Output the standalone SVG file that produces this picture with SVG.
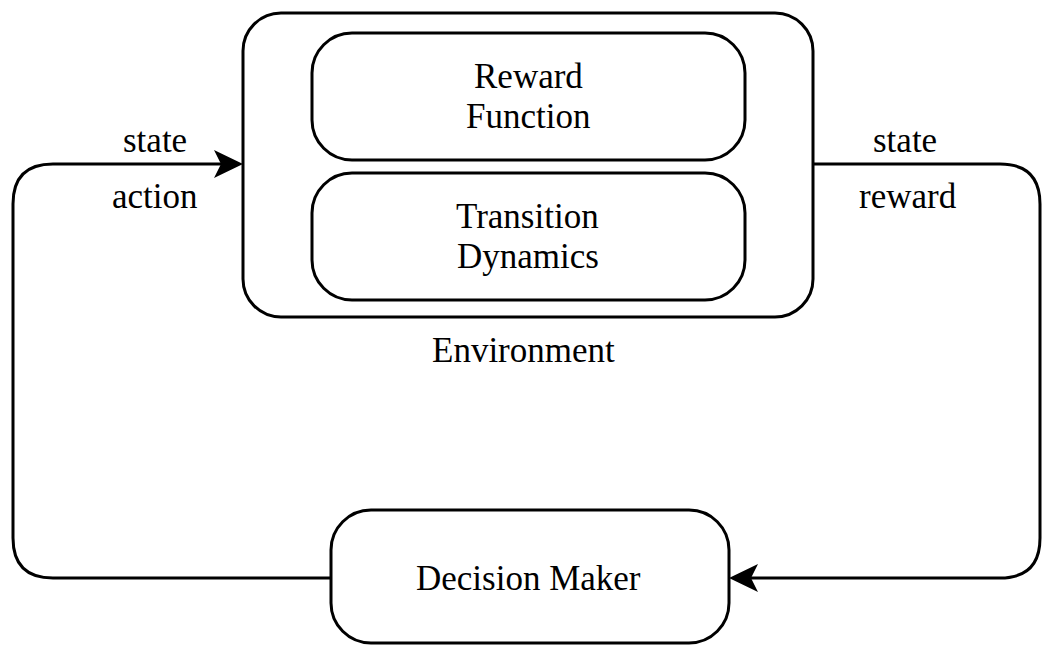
<svg xmlns="http://www.w3.org/2000/svg" width="1043" height="646" viewBox="0 0 1043 646">
<style>
.box{fill:#fff;stroke:#000;stroke-width:3}
.ln{fill:none;stroke:#000;stroke-width:3}
.t{font-size:35px;fill:#000}
</style>
<rect width="1043" height="646" fill="#fff"/>
<g id="connectors">
<path class="ln" d="M331,578 L53,578 Q13,578 13,538 L13,204 Q13,164 53,164 L222,164"/>
<path d="M243,164 L214,150 L221,164 L214,178 Z" fill="#000"/>
<path class="ln" d="M813,164 L1000,164 Q1040,164 1040,204 L1040,538 Q1040,578 1000,578 L750,578"/>
<path d="M729,578 L758,564 L751,578 L758,592 Z" fill="#000"/>
<text class="t" font-family="Liberation Serif" x="123" y="152">state</text>
<text class="t" font-family="Liberation Serif" x="112" y="208">action</text>
<text class="t" font-family="Liberation Serif" x="873" y="152">state</text>
<text class="t" font-family="Liberation Serif" x="859" y="208">reward</text>
</g>
<g id="environment">
<rect class="box" x="243" y="13" width="570" height="304" rx="38" ry="38"/>
<text class="t" font-family="Liberation Serif" x="432" y="362">Environment</text>
</g>
<g id="reward-function">
<rect class="box" x="312" y="33" width="433" height="127" rx="40" ry="40"/>
<text class="t" font-family="Liberation Serif" x="474" y="88">Reward</text>
<text class="t" font-family="Liberation Serif" x="466" y="128">Function</text>
</g>
<g id="transition-dynamics">
<rect class="box" x="312" y="173" width="433" height="127" rx="40" ry="40"/>
<text class="t" font-family="Liberation Serif" x="456" y="228">Transition</text>
<text class="t" font-family="Liberation Serif" x="457" y="268">Dynamics</text>
</g>
<g id="decision-maker">
<rect class="box" x="331" y="510" width="398" height="133" rx="40" ry="40"/>
<text class="t" font-family="Liberation Serif" x="416" y="590">Decision Maker</text>
</g>
</svg>
